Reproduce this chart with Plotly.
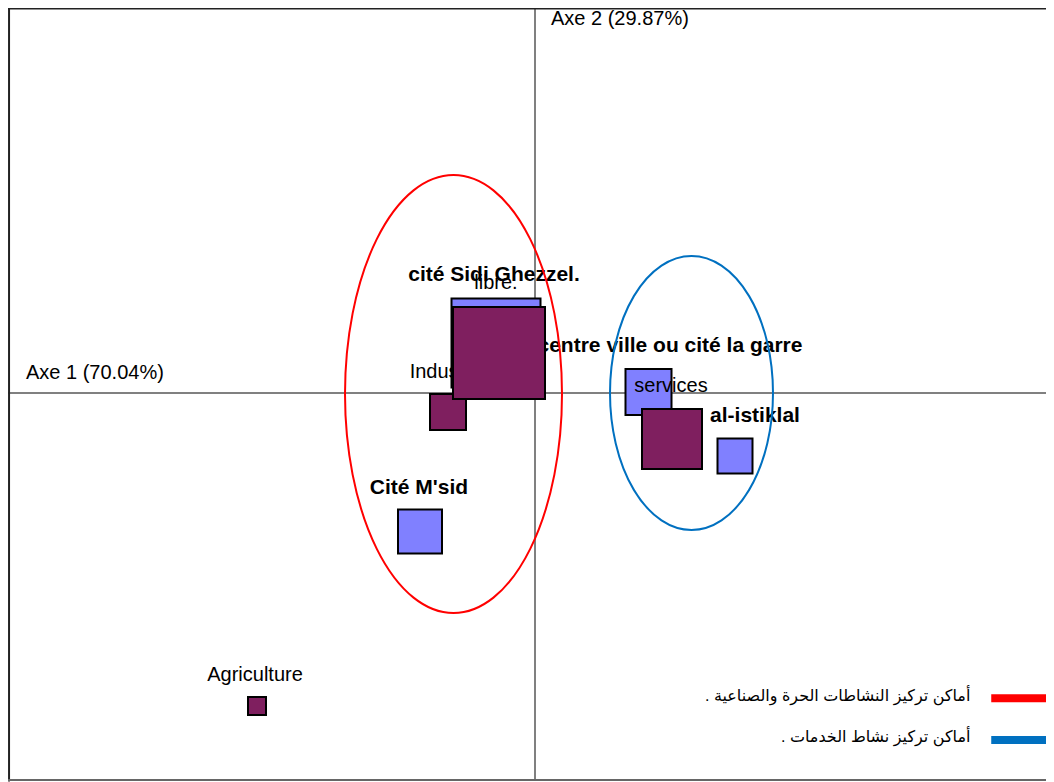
import plotly.graph_objects as go

# --- data (factor coordinates, arbitrary CA units) ---
activity_labels = ["Agriculture", "Industrie", "services", "libre."]
activity_x = [-0.556, -0.174, 0.274, -0.072]
activity_y = [-0.626, -0.038, -0.092, 0.080]
activity_w = [18, 36, 60, 92]

place_labels = ["cité Sidi Ghezzel.", "centre ville ou cité la garre", "al-istiklal", "Cité M'sid"]
place_x = [-0.078, 0.227, 0.400, -0.230]
place_y = [0.100, 0.002, -0.126, -0.277]
place_w = [89, 46, 35, 44]

# label anchor positions
act_lab_x = [-0.560, -0.174, 0.272, -0.078]
act_lab_y = [-0.566, 0.040, 0.012, 0.218]
place_lab_x = [-0.082, 0.270, 0.440, -0.232]
place_lab_y = [0.234, 0.092, -0.048, -0.192]

axis_titles = ["Axe 1 (70.04%)", "Axe 2 (29.87%)"]

# highlighted groups (ellipses): center x, center y, radius x, radius y
ell_names = ["أماكن تركيز النشاطات الحرة والصناعية .\u200f", "أماكن تركيز نشاط الخدمات .\u200f"]
ell_cx = [-0.163, 0.313]
ell_cy = [-0.002, 0.000]
ell_rx = [0.217, 0.163]
ell_ry = [0.438, 0.274]
ell_colors = ["#FF0000", "#0070C0"]

PURPLE = "#7F1F5F"
BLUE = "#8080FF"

x_range = [-1.054, 1.038]
y_range = [-0.774, 0.770]

fig = go.Figure()

# place squares (blue)
fig.add_trace(go.Scatter(
    x=place_x, y=place_y, mode="markers",
    marker=dict(symbol="square", size=place_w, color=BLUE, opacity=1,
                line=dict(color="black", width=2)),
    hoverinfo="skip", showlegend=False))

# labels
fig.add_trace(go.Scatter(
    x=act_lab_x, y=act_lab_y, mode="text", text=activity_labels,
    textfont=dict(family="Liberation Sans, Arial", size=20, color="black"),
    hoverinfo="skip", showlegend=False))
fig.add_trace(go.Scatter(
    x=place_lab_x, y=place_lab_y, mode="text",
    text=["<b>%s</b>" % t for t in place_labels],
    textfont=dict(family="Liberation Sans, Arial", size=21, color="black"),
    hoverinfo="skip", showlegend=False))

# activity squares (purple)
fig.add_trace(go.Scatter(
    x=activity_x, y=activity_y, mode="markers",
    marker=dict(symbol="square", size=activity_w, color=PURPLE, opacity=1,
                line=dict(color="black", width=2)),
    hoverinfo="skip", showlegend=False))

shapes = []
for cx, cy, rx, ry, col in zip(ell_cx, ell_cy, ell_rx, ell_ry, ell_colors):
    shapes.append(dict(type="circle", xref="x", yref="y",
                       x0=cx - rx, x1=cx + rx, y0=cy - ry, y1=cy + ry,
                       line=dict(color=col, width=2)))

# frame
shapes.append(dict(type="line", xref="paper", yref="paper", x0=0.001, x1=0.001, y0=-0.002, y1=1,
                   line=dict(color="#222222", width=2)))
shapes.append(dict(type="line", xref="paper", yref="paper", x0=0, x1=1.01, y0=0.999, y1=0.999,
                   line=dict(color="#222222", width=1.5)))
shapes.append(dict(type="line", xref="paper", yref="paper", x0=0, x1=1.01, y0=0, y1=0,
                   line=dict(color="#666666", width=2)))

annotations = []
# legend entries
leg_y = [0.110, 0.0557]
for name, col, ly in zip(ell_names, ell_colors, leg_y):
    shapes.append(dict(type="line", xref="paper", yref="paper", x0=0.940, x1=1.01,
                       y0=ly - 0.004, y1=ly - 0.004, line=dict(color=col, width=8)))
    annotations.append(dict(xref="paper", yref="paper", x=0.9216, y=ly, text=name,
                            showarrow=False, xanchor="right", yanchor="middle",
                            font=dict(family="Arial, Liberation Sans, DejaVu Sans", size=16, color="black")))

# axis titles
annotations.append(dict(xref="paper", yref="y", x=0.015, y=0.0, text=axis_titles[0],
                        showarrow=False, xanchor="left", yanchor="bottom", yshift=8,
                        font=dict(family="Liberation Sans, Arial", size=20, color="black")))
annotations.append(dict(xref="x", yref="paper", x=0.0, y=1.0, text=axis_titles[1],
                        showarrow=False, xanchor="left", yanchor="top", xshift=14, yshift=3,
                        font=dict(family="Liberation Sans, Arial", size=20, color="black")))

fig.update_layout(
    width=1046, height=774,
    margin=dict(l=0, r=0, t=0, b=2),
    paper_bgcolor="white", plot_bgcolor="white",
    shapes=shapes, annotations=annotations,
    xaxis=dict(range=x_range, showgrid=False, showticklabels=False, ticks="",
               zeroline=True, zerolinecolor="#808080", zerolinewidth=2, showline=False),
    yaxis=dict(range=y_range, showgrid=False, showticklabels=False, ticks="",
               zeroline=True, zerolinecolor="#808080", zerolinewidth=2, showline=False),
)

fig.write_html("out.html")
